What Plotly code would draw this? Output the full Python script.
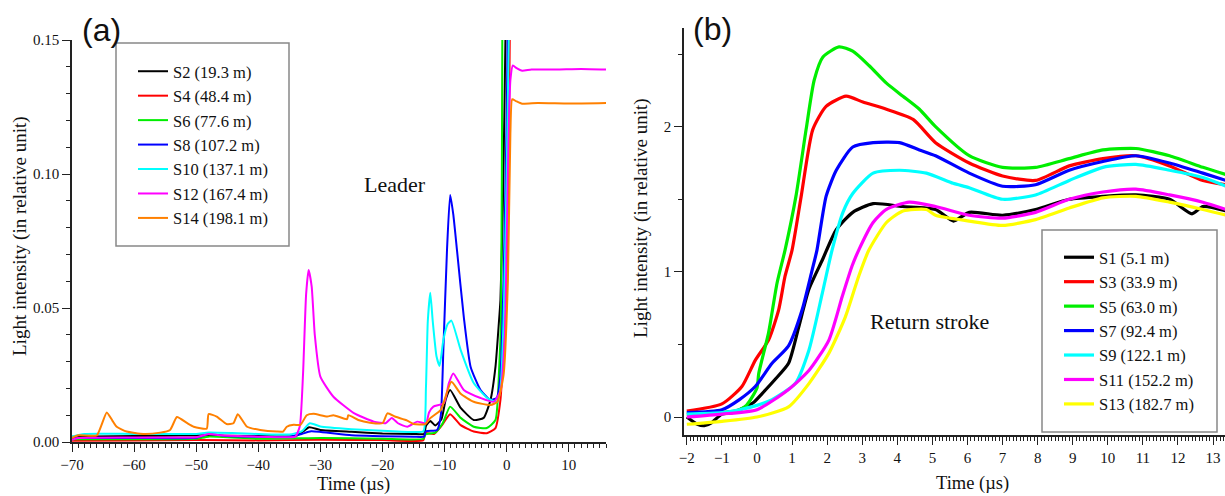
import plotly.graph_objects as go

# ---------------- Panel (a): leader light (relative units) ----------------
a_names = ["S2 (19.3 m)", "S4 (48.4 m)", "S6 (77.6 m)", "S8 (107.2 m)",
           "S10 (137.1 m)", "S12 (167.4 m)", "S14 (198.1 m)"]
a_colors = ["#000000", "#FF0000", "#00EE00", "#0000FF", "#00FFFF", "#FF00FF", "#FF8000"]

s2_t = [-70, -60, -50, -40, -34, -33, -31.8, -30, -25, -20, -15, -13.3, -13.0, -12.3, -11.5,
        -10.5, -9.8, -9.1, -7.4, -5.3, -3.7, -2.6, -1.8, -1.3, -1.0, -0.6, -0.2, 0.2]
s2_v = [0.002, 0.0022, 0.0025, 0.0022, 0.0022, 0.0035, 0.0055, 0.0045, 0.0038, 0.0032, 0.003,
        0.003, 0.006, 0.0078, 0.0062, 0.0085, 0.016, 0.0194, 0.0127, 0.0082, 0.009, 0.0157,
        0.028, 0.043, 0.053, 0.09, 0.15, 0.3]

s4_t = [-70, -60, -50, -40, -30, -20, -13.4, -13.1, -11.7, -10.5, -9.1, -7.4, -5.3, -3.2,
        -1.8, -1.0, -0.5, 0.0, 0.3, 0.5, 0.8]
s4_v = [0.0005, 0.0006, 0.0007, 0.0006, 0.0008, 0.0007, 0.0007, 0.0033, 0.003, 0.006, 0.0104,
        0.0063, 0.0039, 0.0033, 0.0052, 0.0157, 0.034, 0.055, 0.1, 0.15, 0.3]

s6_t = [-70, -60, -50, -48, -40, -30, -20, -13.4, -13.1, -11.5, -10.3, -9.1, -7.4, -5.3,
        -3.2, -1.8, -1.2, -0.9, -0.7, -0.4]
s6_v = [0.001, 0.001, 0.0012, 0.002, 0.0012, 0.0015, 0.0012, 0.0012, 0.0028, 0.0035, 0.007,
        0.0132, 0.009, 0.0057, 0.0052, 0.0082, 0.028, 0.047, 0.15, 0.3]

s8_t = [-70, -60, -50, -48, -45, -35, -33, -31.5, -25, -15, -13.3, -13.0, -11.2, -10.6,
        -10.2, -9.6, -9.1, -8.6, -8.0, -6.9, -5.8, -4.2, -2.6, -1.6, -1.0, -0.5, 0.0, 0.2, 0.6]
s8_v = [0.0015, 0.0015, 0.0016, 0.003, 0.0022, 0.002, 0.003, 0.004, 0.0025, 0.002, 0.002,
        0.004, 0.0045, 0.01, 0.034, 0.072, 0.0922, 0.085, 0.0716, 0.0466, 0.028, 0.0194,
        0.0157, 0.0165, 0.025, 0.06, 0.12, 0.16, 0.3]

s10_t = [-70, -68, -60, -50, -48, -40, -35, -33, -31.7, -30, -25, -20, -15, -13.4, -13.0,
         -12.7, -12.3, -11.9, -11.3, -10.8, -10.2, -9.5, -8.9, -7.4, -5.3, -3.1, -1.5, -1.0,
         -0.5, 0.0, 0.4, 0.8]
s10_v = [0.002, 0.003, 0.003, 0.003, 0.0035, 0.003, 0.0028, 0.004, 0.007, 0.0058, 0.0048,
         0.0042, 0.0037, 0.004, 0.02, 0.045, 0.0557, 0.045, 0.032, 0.0284, 0.038, 0.044,
         0.0453, 0.0343, 0.022, 0.0164, 0.015, 0.02, 0.045, 0.1, 0.16, 0.3]

s12_t = [-70, -69, -60, -50, -48, -46, -40, -35, -34, -33.3, -32.8, -32.3, -31.9, -31.4,
         -30.9, -30.0, -27.9, -24.6, -21.4, -19.5, -18.5, -17.5, -16.0, -14.4, -13.0, -12.5,
         -11.8, -10.1, -9.3, -8.6, -6.9, -4.2, -2.1, -1.0, -0.3, 0.2, 0.6, 1.0, 1.6, 2.5,
         4, 8, 12, 16]
s12_v = [0.0008, 0.0015, 0.0017, 0.0018, 0.003, 0.0025, 0.002, 0.0018, 0.002, 0.006, 0.025,
         0.055, 0.0642, 0.058, 0.04, 0.0244, 0.0169, 0.0108, 0.0076, 0.007, 0.009, 0.007,
         0.0057, 0.0076, 0.0069, 0.011, 0.0132, 0.0145, 0.022, 0.0256, 0.0194, 0.0164, 0.015,
         0.019, 0.04, 0.1, 0.135, 0.1405, 0.1395, 0.1385, 0.139, 0.139, 0.1392, 0.139]

s14_t = [-70, -69, -66, -65.3, -64.4, -63.5, -62.8, -61.2, -58.5, -55.8, -54.2, -53.1, -51.5,
         -50.4, -48.3, -48.0, -46.7, -45.1, -44.0, -43.3, -41.8, -39.7, -37.0, -36.0, -35.4,
         -34.3, -33.2, -32.2, -31.1, -28.9, -27.9, -25.7, -25.5, -23.9, -22, -20, -19.2, -18,
         -16, -15, -13.1, -12.3, -10.6, -8.9, -7.4, -5.3, -2.6, -1.5, -0.5, 0.2, 0.6, 0.9,
         1.5, 2.5, 5, 10, 16]
s14_v = [0.0015, 0.0025, 0.0025, 0.006, 0.011, 0.008, 0.0057, 0.0039, 0.003, 0.0035, 0.0045,
         0.0093, 0.0071, 0.0057, 0.005, 0.0104, 0.0095, 0.0067, 0.007, 0.0104, 0.0057, 0.0045,
         0.0039, 0.0039, 0.0057, 0.0064, 0.0064, 0.010, 0.0105, 0.0095, 0.010, 0.0085, 0.010,
         0.0082, 0.0072, 0.007, 0.0107, 0.0095, 0.008, 0.0067, 0.0067, 0.0089, 0.012, 0.0225,
         0.018, 0.015, 0.0138, 0.015, 0.025, 0.06, 0.115, 0.1279, 0.1272, 0.1262, 0.1265,
         0.1263, 0.1265]

a_t = [s2_t, s4_t, s6_t, s8_t, s10_t, s12_t, s14_t]
a_v = [s2_v, s4_v, s6_v, s8_v, s10_v, s12_v, s14_v]

# ---------------- Panel (b): return stroke light ----------------
b_names = ["S1 (5.1 m)", "S3 (33.9 m)", "S5 (63.0 m)", "S7 (92.4 m)",
           "S9 (122.1 m)", "S11 (152.2 m)", "S13 (182.7 m)"]
b_colors = ["#000000", "#FF0000", "#00EE00", "#0000FF", "#00FFFF", "#FF00FF", "#FFFF00"]

r1_t = [-2, -1.7, -1.5, -1.3, -1.0, -0.7, -0.4, -0.1, 0.14, 0.52, 0.9, 1.19, 1.48, 1.86, 2.26,
        2.73, 3.31, 4.14, 5.09, 5.6, 6.05, 7.0, 7.94, 8.9, 9.86, 10.8, 11.76, 12.4, 12.71, 13.37]
r1_v = [0.0, -0.05, -0.06, -0.04, 0.02, 0.03, 0.06, 0.1, 0.16, 0.26, 0.37, 0.62, 0.88, 1.08,
        1.29, 1.41, 1.47, 1.45, 1.43, 1.35, 1.41, 1.39, 1.43, 1.50, 1.52, 1.53, 1.50, 1.40,
        1.45, 1.42]

r3_t = [-2, -1, -0.43, -0.05, 0.33, 0.62, 0.8, 1.0, 1.26, 1.59, 1.97, 2.54, 3.02, 3.69, 4.45,
        5.09, 6.05, 7.0, 7.94, 8.9, 9.86, 10.8, 11.76, 12.71, 13.37]
r3_v = [0.04, 0.09, 0.21, 0.39, 0.53, 0.74, 0.97, 1.15, 1.52, 1.98, 2.14, 2.21, 2.17, 2.12,
        2.05, 1.89, 1.75, 1.66, 1.63, 1.73, 1.78, 1.80, 1.73, 1.63, 1.60]

r5_t = [-2, -1, -0.5, -0.3, 0.0, 0.05, 0.33, 0.57, 0.8, 1.11, 1.4, 1.63, 1.88, 2.34, 2.73, 3.2,
        3.69, 4.16, 4.63, 5.09, 6.05, 7.0, 7.94, 8.9, 9.86, 10.8, 11.76, 12.71, 13.37]
r5_v = [0.02, 0.03, 0.05, 0.08, 0.2, 0.3, 0.58, 0.92, 1.15, 1.52, 1.98, 2.32, 2.48, 2.55,
        2.52, 2.42, 2.30, 2.21, 2.12, 2.0, 1.80, 1.72, 1.72, 1.78, 1.84, 1.85, 1.80, 1.72, 1.67]

r7_t = [-2, -1, -0.5, -0.05, 0.43, 0.9, 1.29, 1.57, 1.71, 1.97, 2.26, 2.73, 3.31, 4.06, 4.63,
        5.09, 6.05, 7.0, 7.94, 8.9, 9.86, 10.8, 11.76, 12.71, 13.37]
r7_v = [0.03, 0.05, 0.12, 0.21, 0.37, 0.49, 0.74, 1.01, 1.15, 1.52, 1.70, 1.86, 1.89, 1.89,
        1.84, 1.80, 1.68, 1.59, 1.60, 1.70, 1.76, 1.80, 1.75, 1.68, 1.63]

r9_t = [-2, -1, -0.5, 0, 0.43, 1.09, 1.48, 1.86, 2.14, 2.45, 2.73, 3.31, 4.06, 4.83, 5.59,
        6.05, 7.0, 7.94, 8.9, 9.86, 10.8, 11.76, 12.71, 13.37]
r9_v = [0.02, 0.03, 0.05, 0.08, 0.12, 0.23, 0.46, 0.85, 1.15, 1.41, 1.54, 1.68, 1.70, 1.68,
        1.61, 1.58, 1.50, 1.53, 1.63, 1.72, 1.74, 1.70, 1.65, 1.59]

r11_t = [-2, -1, 0, 0.9, 1.48, 2.05, 2.43, 2.71, 2.9, 3.31, 3.69, 4.34, 5.09, 6.05, 7.0, 7.94,
         8.9, 9.86, 10.8, 11.76, 12.71, 13.37]
r11_v = [0.0, 0.02, 0.05, 0.19, 0.32, 0.53, 0.83, 1.04, 1.15, 1.34, 1.43, 1.48, 1.45, 1.39,
         1.37, 1.41, 1.50, 1.55, 1.57, 1.53, 1.48, 1.43]

r13_t = [-2, -1, 0, 0.9, 1.48, 2.05, 2.52, 2.9, 3.19, 3.69, 4.16, 4.83, 5.09, 6.05, 7.0, 7.94,
         8.9, 9.86, 10.8, 11.76, 12.71, 13.37]
r13_v = [-0.05, -0.03, 0.0, 0.07, 0.23, 0.44, 0.69, 0.97, 1.15, 1.34, 1.42, 1.43, 1.39, 1.35,
         1.32, 1.36, 1.44, 1.51, 1.52, 1.48, 1.43, 1.39]

b_t = [r1_t, r3_t, r5_t, r7_t, r9_t, r11_t, r13_t]
b_v = [r1_v, r3_v, r5_v, r7_v, r9_v, r11_v, r13_v]

# ---------------- Figure ----------------
W, H = 1225, 496
SERIF = "Liberation Serif, Times New Roman, serif"
SANS = "Liberation Sans, Arial, sans-serif"


def px(x):
    return x / W


def py(y):
    return 1 - y / H


fig = go.Figure()
for name, col, t, v in zip(a_names, a_colors, a_t, a_v):
    fig.add_trace(go.Scatter(x=t, y=v, mode="lines", name=name, legendgroup=name,
                             line=dict(color=col, width=2, shape="spline", smoothing=0.5),
                             xaxis="x", yaxis="y", legend="legend"))
for name, col, t, v in zip(b_names, b_colors, b_t, b_v):
    fig.add_trace(go.Scatter(x=t, y=v, mode="lines", name=name, legendgroup=name,
                             line=dict(color=col, width=3.2, shape="spline", smoothing=0.6),
                             xaxis="x2", yaxis="y2", legend="legend2"))

axis_common = dict(showline=True, linecolor="#222", linewidth=1.5, showgrid=False,
                   zeroline=False, ticks="outside", ticklen=8, tickwidth=1.3,
                   tickcolor="#222", automargin=False,
                   tickfont=dict(family=SERIF, size=15, color="#111"))

legend_common = dict(xanchor="left", yanchor="top", bgcolor="rgba(0,0,0,0)", borderwidth=0,
                     tracegroupgap=0, font=dict(family=SERIF, size=16.5, color="#111"))

fig.update_layout(
    template="none",
    width=W, height=H, autosize=False,
    margin=dict(l=0, r=0, t=0, b=0, pad=0, autoexpand=False),
    paper_bgcolor="white", plot_bgcolor="white",
    xaxis=dict(domain=[px(72), px(606)], range=[-70, 16], anchor="y", tick0=-70, dtick=10,
               minor=dict(dtick=1, ticklen=4, ticks="outside", tickcolor="#222"),
               **axis_common),
    yaxis=dict(domain=[py(442), py(40)], range=[0, 0.15], anchor="x", dtick=0.05,
               tickformat=".2f",
               minor=dict(dtick=0.01, ticklen=4, ticks="outside", tickcolor="#222"),
               **axis_common),
    xaxis2=dict(domain=[px(684), 1.0], range=[-2.08, 13.34], anchor="y2", tick0=0, dtick=1,
                minor=dict(dtick=0.1, ticklen=4, ticks="outside", tickcolor="#222"),
                **axis_common),
    yaxis2=dict(domain=[py(435), py(28)], range=[-0.124, 2.68], anchor="x2", tick0=0, dtick=1,
                minor=dict(dtick=0.5, ticklen=4, ticks="outside", tickcolor="#222"),
                **axis_common),
    legend=dict(x=px(133), y=py(54), **legend_common),
    legend2=dict(x=px(1059), y=py(240), **legend_common),
    shapes=[
        dict(type="rect", xref="paper", yref="paper", x0=px(116), x1=px(289),
             y0=py(246), y1=py(43), line=dict(color="#888", width=1.5)),
        dict(type="rect", xref="paper", yref="paper", x0=px(1042), x1=px(1217),
             y0=py(432), y1=py(230), line=dict(color="#888", width=1.5)),
    ],
)

ann = [
    ("(a)", 101, 30, 32, SANS, 0),
    ("(b)", 712, 29, 32, SANS, 0),
    ("Leader", 395, 184, 22, SERIF, 0),
    ("Return stroke", 929, 321, 22, SERIF, 0),
    ("Time (µs)", 353, 484, 18.5, SERIF, 0),
    ("Time (µs)", 972, 483, 18.5, SERIF, 0),
    ("Light intensity (in relative unit)", 20, 236, 19, SERIF, -90),
    ("Light intensity (in relative unit)", 641, 218, 19, SERIF, -90),
]
for text, x, y, size, fam, ang in ann:
    fig.add_annotation(text=text, x=px(x), y=py(y), xref="paper", yref="paper",
                       xanchor="center", yanchor="middle", showarrow=False,
                       textangle=ang, font=dict(family=fam, size=size, color="#111"))

# remove the default 8px page margin so the figure fills the window exactly
fig.write_html("out.html", config={"displayModeBar": False},
               post_script="document.body.style.margin='0';"
                           "document.documentElement.style.overflow='hidden';")
